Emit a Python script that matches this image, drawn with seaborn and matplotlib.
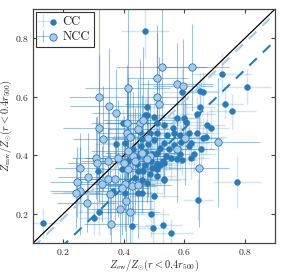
import numpy as np
import pandas as pd
import matplotlib
matplotlib.use("Agg")
import matplotlib.pyplot as plt
import seaborn as sns
from matplotlib.legend_handler import HandlerTuple

# ---- data ----
cc_x = [0.469, 0.725, 0.807, 0.652, 0.663, 0.593, 0.734, 0.757, 0.652, 0.643,
        0.574, 0.600, 0.689, 0.498, 0.475, 0.534, 0.561, 0.584, 0.616, 0.672,
        0.485, 0.541, 0.511, 0.607, 0.675, 0.511, 0.567, 0.643, 0.534, 0.567,
        0.500, 0.590, 0.623, 0.660, 0.616, 0.656, 0.633, 0.623, 0.593, 0.577,
        0.557, 0.528, 0.538, 0.511, 0.492, 0.508, 0.492, 0.511, 0.485, 0.511,
        0.534, 0.475, 0.498, 0.646, 0.774, 0.489, 0.495, 0.531, 0.557, 0.426,
        0.302, 0.318, 0.134, 0.259, 0.403, 0.459, 0.446, 0.364, 0.459, 0.462,
        0.446, 0.436, 0.443, 0.393, 0.315, 0.403, 0.374, 0.397, 0.452, 0.469,
        0.403, 0.534, 0.518, 0.502, 0.534, 0.430, 0.455, 0.470, 0.445, 0.480,
        0.425, 0.460, 0.490, 0.470, 0.415, 0.585, 0.548, 0.520, 0.475]
cc_y = [0.824, 0.678, 0.634, 0.620, 0.616, 0.615, 0.574, 0.550, 0.564, 0.540,
        0.526, 0.526, 0.492, 0.530, 0.537, 0.502, 0.492, 0.468, 0.475, 0.461,
        0.475, 0.468, 0.510, 0.513, 0.503, 0.475, 0.475, 0.475, 0.441, 0.434,
        0.451, 0.444, 0.441, 0.458, 0.431, 0.420, 0.403, 0.390, 0.382, 0.386,
        0.390, 0.380, 0.396, 0.407, 0.403, 0.370, 0.356, 0.352, 0.335, 0.329,
        0.318, 0.305, 0.260, 0.248, 0.308, 0.199, 0.150, 0.161, 0.133, 0.158,
        0.187, 0.206, 0.168, 0.274, 0.270, 0.270, 0.270, 0.277, 0.315, 0.345,
        0.345, 0.322, 0.369, 0.352, 0.347, 0.298, 0.437, 0.509, 0.478, 0.537,
        0.441, 0.373, 0.366, 0.359, 0.315, 0.420, 0.430, 0.410, 0.395, 0.440,
        0.465, 0.455, 0.380, 0.365, 0.380, 0.405, 0.420, 0.425, 0.565]
cc_xerr = [0.08, 0.10, 0.08, 0.06, 0.05, 0.07, 0.06, 0.08, 0.05, 0.06,
           0.07, 0.05, 0.06, 0.08, 0.06, 0.05, 0.06, 0.05, 0.06, 0.07,
           0.05, 0.06, 0.07, 0.05, 0.06, 0.06, 0.05, 0.07, 0.06, 0.05,
           0.06, 0.05, 0.06, 0.07, 0.05, 0.06, 0.07, 0.06, 0.05, 0.06,
           0.05, 0.06, 0.05, 0.07, 0.06, 0.05, 0.06, 0.07, 0.05, 0.06,
           0.07, 0.06, 0.08, 0.05, 0.08, 0.06, 0.05, 0.06, 0.07, 0.06,
           0.05, 0.07, 0.05, 0.06, 0.08, 0.07, 0.06, 0.05, 0.06, 0.07,
           0.05, 0.06, 0.07, 0.06, 0.05, 0.06, 0.07, 0.06, 0.05, 0.06,
           0.07, 0.05, 0.06, 0.07, 0.05, 0.06, 0.07, 0.05, 0.06, 0.05,
           0.06, 0.07, 0.05, 0.06, 0.07, 0.05, 0.06, 0.05, 0.06]
cc_yerr = [0.09, 0.07, 0.06, 0.06, 0.07, 0.08, 0.05, 0.06, 0.07, 0.06,
           0.06, 0.05, 0.07, 0.09, 0.06, 0.05, 0.06, 0.07, 0.05, 0.06,
           0.07, 0.05, 0.06, 0.07, 0.05, 0.06, 0.07, 0.05, 0.06, 0.05,
           0.07, 0.06, 0.05, 0.07, 0.06, 0.05, 0.06, 0.07, 0.05, 0.06,
           0.07, 0.06, 0.05, 0.06, 0.07, 0.05, 0.06, 0.05, 0.07, 0.06,
           0.05, 0.06, 0.10, 0.07, 0.09, 0.08, 0.07, 0.06, 0.05, 0.07,
           0.06, 0.08, 0.05, 0.07, 0.06, 0.07, 0.05, 0.06, 0.07, 0.06,
           0.05, 0.06, 0.07, 0.06, 0.05, 0.07, 0.06, 0.05, 0.07, 0.06,
           0.05, 0.06, 0.07, 0.05, 0.06, 0.07, 0.05, 0.06, 0.07, 0.05,
           0.06, 0.05, 0.07, 0.06, 0.05, 0.06, 0.07, 0.05, 0.06]

ncc_x = [0.525, 0.626, 0.511, 0.413, 0.574, 0.595, 0.318, 0.352, 0.374, 0.318,
         0.331, 0.511, 0.515, 0.410, 0.410, 0.420, 0.452, 0.462, 0.308, 0.311,
         0.348, 0.380, 0.254, 0.282, 0.348, 0.371, 0.430, 0.436, 0.413, 0.459,
         0.403, 0.426, 0.446, 0.246, 0.256, 0.328, 0.354, 0.393, 0.413, 0.243,
         0.279, 0.406, 0.387, 0.419, 0.357, 0.577, 0.649, 0.711, 0.603, 0.485,
         0.475, 0.479, 0.448, 0.400]
ncc_y = [0.700, 0.700, 0.665, 0.629, 0.643, 0.636, 0.600, 0.567, 0.544, 0.494,
         0.457, 0.598, 0.576, 0.509, 0.475, 0.461, 0.509, 0.520, 0.390, 0.373,
         0.380, 0.390, 0.356, 0.327, 0.318, 0.320, 0.396, 0.380, 0.352, 0.407,
         0.301, 0.294, 0.298, 0.308, 0.277, 0.301, 0.268, 0.287, 0.414, 0.272,
         0.237, 0.244, 0.215, 0.205, 0.164, 0.420, 0.355, 0.444, 0.458, 0.396,
         0.386, 0.458, 0.490, 0.375]
ncc_xerr = [0.15, 0.12, 0.10, 0.14, 0.12, 0.10, 0.10, 0.13, 0.08, 0.12,
            0.10, 0.09, 0.11, 0.12, 0.10, 0.09, 0.11, 0.13, 0.08, 0.10,
            0.09, 0.11, 0.08, 0.10, 0.09, 0.12, 0.10, 0.11, 0.09, 0.12,
            0.10, 0.08, 0.11, 0.09, 0.10, 0.08, 0.11, 0.09, 0.12, 0.08,
            0.10, 0.09, 0.11, 0.10, 0.09, 0.12, 0.10, 0.14, 0.11, 0.10,
            0.09, 0.12, 0.10, 0.11]
ncc_yerr = [0.20, 0.15, 0.18, 0.30, 0.14, 0.16, 0.32, 0.20, 0.15, 0.25,
            0.18, 0.22, 0.16, 0.20, 0.15, 0.18, 0.22, 0.25, 0.14, 0.16,
            0.18, 0.20, 0.12, 0.15, 0.17, 0.14, 0.22, 0.18, 0.15, 0.20,
            0.16, 0.14, 0.18, 0.12, 0.15, 0.13, 0.14, 0.16, 0.25, 0.12,
            0.10, 0.14, 0.12, 0.13, 0.10, 0.18, 0.20, 0.22, 0.16, 0.18,
            0.15, 0.20, 0.17, 0.16]

# fitted relations (slope, intercept)
fit_ncc = (1.0, -0.015)
fit_cc = (1.0, -0.108)

cc_df = pd.DataFrame({"x": cc_x, "y": cc_y})
ncc_df = pd.DataFrame({"x": ncc_x, "y": ncc_y})

# ---- style ----
sns.set_style("ticks")
plt.rcParams["font.family"] = "serif"
plt.rcParams["font.serif"] = ["cmr10", "DejaVu Serif"]
plt.rcParams["mathtext.fontset"] = "cm"
plt.rcParams["axes.formatter.use_mathtext"] = True

dark = "#2a7ab8"
light = "#a9c9e8"

fig, ax = plt.subplots(figsize=(2.93, 2.73), dpi=100)
fig.subplots_adjust(left=0.113, right=0.939, bottom=0.11, top=0.967)

eb_cc = ax.errorbar(cc_x, cc_y, xerr=cc_xerr, yerr=cc_yerr, fmt="none",
                    ecolor=(0.16, 0.48, 0.72, 0.2), elinewidth=1.0, zorder=1)
eb_ncc = ax.errorbar(ncc_x, ncc_y, xerr=ncc_xerr, yerr=ncc_yerr, fmt="none",
                     ecolor=(0.16, 0.48, 0.72, 0.45), elinewidth=0.8, zorder=1.2)

lims = np.array([0.1, 0.9])
ax.plot(lims, lims, color="black", lw=0.9, zorder=2)
ax.plot(lims, fit_ncc[0] * lims + fit_ncc[1], color=light, lw=1.5,
        ls=(0, (5, 4)), zorder=2)
ax.plot(lims, fit_cc[0] * lims + fit_cc[1], color=dark, lw=1.5,
        ls=(0, (5, 4)), zorder=2)

sns.scatterplot(data=cc_df, x="x", y="y", ax=ax, color=dark, s=18,
                edgecolor=dark, linewidth=0.3, zorder=3)
sc_cc = ax.collections[-1]
sns.scatterplot(data=ncc_df, x="x", y="y", ax=ax, color=light, s=28,
                edgecolor=dark, linewidth=0.6, zorder=3.5)
sc_ncc = ax.collections[-1]

ax.set_xlim(0.1, 0.9)
ax.set_ylim(0.1, 0.9)
ax.set_xticks([0.2, 0.4, 0.6, 0.8])
ax.set_yticks([0.2, 0.4, 0.6, 0.8])
ax.tick_params(direction="in", top=True, right=True, labelsize=7,
               length=3, width=0.8, color="#444444", pad=3)
for sp in ax.spines.values():
    sp.set_color("#444444")
    sp.set_linewidth(0.9)

ax.set_xlabel(r"$Z_{\rm ew}/Z_{\odot}(r<0.4r_{500})$", fontsize=7.5, labelpad=0.5)
ax.set_ylabel(r"$Z_{\rm mw}/Z_{\odot}(r<0.4r_{500})$", fontsize=7.5, labelpad=0.5)

leg = ax.legend([(eb_cc, sc_cc), (eb_ncc, sc_ncc)], ["CC", "NCC"],
                handler_map={tuple: HandlerTuple(ndivide=None)},
                loc="upper left", fontsize=9, frameon=True, fancybox=False,
                edgecolor="#333333", framealpha=1, handlelength=1.3,
                borderpad=0.3, labelspacing=0.25, handletextpad=0.5,
                borderaxespad=0.25)
leg.get_frame().set_linewidth(0.8)

fig.savefig("out.png", dpi=100)
